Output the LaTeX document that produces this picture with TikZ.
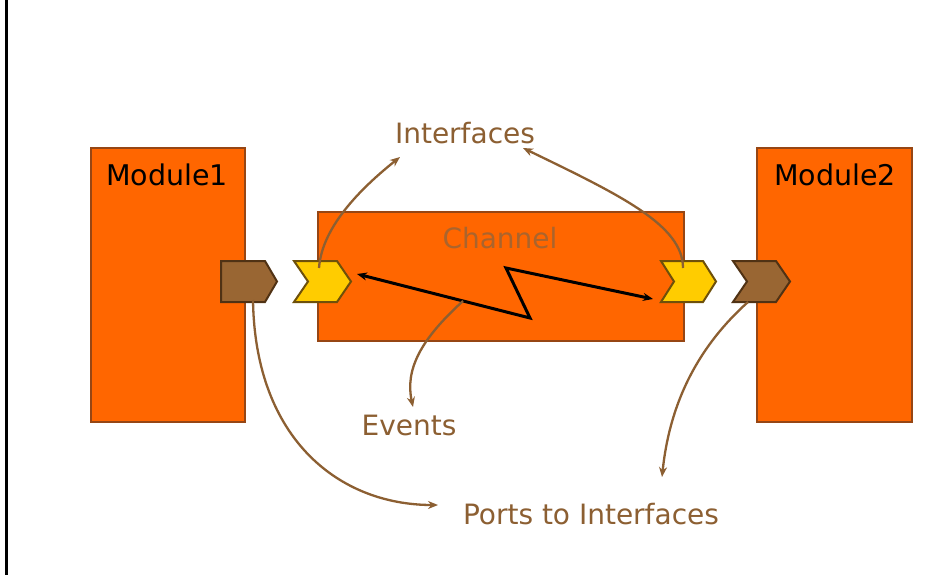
\documentclass[tikz,border=0pt]{standalone}
\usepackage{fontspec}
\setmainfont{DejaVu Sans}
\usetikzlibrary{arrows.meta}
\definecolor{boxorange}{RGB}{255,102,0}
\definecolor{boxedge}{RGB}{150,70,20}
\definecolor{portbrown}{RGB}{153,102,51}
\definecolor{portedge}{RGB}{80,50,20}
\definecolor{ifyellow}{RGB}{255,204,0}
\definecolor{ifedge}{RGB}{110,80,10}
\definecolor{labelbrown}{RGB}{140,95,50}
\definecolor{chantext}{RGB}{170,100,45}
\tikzset{
  block/.style={fill=boxorange, draw=boxedge, line width=1.3pt},
  portshape/.style={fill=portbrown, draw=portedge, line width=2pt, line join=miter},
  ifshape/.style={fill=ifyellow, draw=ifedge, line width=2pt, line join=miter},
  lbl/.style={text=labelbrown, font=\fontsize{28}{32}\selectfont, inner sep=0pt},
  modlbl/.style={text=black, font=\fontsize{28.5}{32}\selectfont, inner sep=0pt},
  pointer/.style={draw=labelbrown, line width=2.3pt, -{Stealth[length=10pt,width=8pt]}},
  eventline/.style={draw=black, line width=3pt, line join=miter,
    {Stealth[length=10pt,width=8pt]}-{Stealth[length=10pt,width=8pt]}}
}
\begin{document}
\begin{tikzpicture}[x=1pt, y=-1pt]
  \useasboundingbox (0,0) rectangle (951,575);
  \fill[white] (0,0) rectangle (951,575);
  % frame edge on the left
  \draw[black, line width=2.8pt] (6.5,0) -- (6.5,575);

  % modules and channel
  \draw[block] (91,148) rectangle (245,422);
  \draw[block] (757,148) rectangle (912,422);
  \draw[block] (318,212) rectangle (684,341);

  \node[modlbl] (m1) at (167,175) {Module1};
  \node[modlbl] (m2) at (835,175) {Module2};
  \node[lbl, text=chantext] (ch) at (500,238) {Channel};

  % ports on the modules
  \draw[portshape] (221,261) -- (265,261) -- (277,281.5) -- (265,302) -- (221,302) -- cycle;
  \draw[portshape] (733,261) -- (776,261) -- (790,281.5) -- (776,302) -- (733,302) -- (747,281.5) -- cycle;
  % interfaces on the channel
  \draw[ifshape] (294,261) -- (337,261) -- (351,281.5) -- (337,302) -- (294,302) -- (308,281.5) -- cycle;
  \draw[ifshape] (661,261) -- (703,261) -- (716,281.5) -- (703,302) -- (661,302) -- (674,281.5) -- cycle;

  \coordinate (p1) at (253,300);
  \coordinate (p2) at (748,302);
  \coordinate (i1) at (319,268);
  \coordinate (i2) at (683,268);

  % event path through the channel
  \coordinate (ev1) at (357,274);
  \coordinate (evA) at (530,318);
  \coordinate (evB) at (506,268);
  \coordinate (ev2) at (653,299);
  \coordinate (evmid) at (463,301);
  \draw[eventline] (ev1) -- (evA) -- (evB) -- (ev2);

  % labels
  \node[lbl] (ifc) at (465,133) {Interfaces};
  \node[lbl] (evt) at (409,425) {Events};
  \node[lbl] (pti) at (591,514) {Ports to Interfaces};

  \coordinate (ifcL) at (400,157);
  \coordinate (ifcR) at (523,148);
  \coordinate (evtT) at (413,407);
  \coordinate (ptiL) at (438,505);
  \coordinate (ptiT) at (662,477);

  % pointers
  \draw[pointer] (i1) .. controls (322,225) and (365,185) .. (ifcL);
  \draw[pointer] (i2) .. controls (683,225) and (620,195) .. (ifcR);
  \draw[pointer] (evmid) .. controls (420,340) and (405,370) .. (evtT);
  \draw[pointer] (p1) .. controls (255,440) and (340,505) .. (ptiL);
  \draw[pointer] (p2) .. controls (700,345) and (670,400) .. (ptiT);
\end{tikzpicture}
\end{document}
